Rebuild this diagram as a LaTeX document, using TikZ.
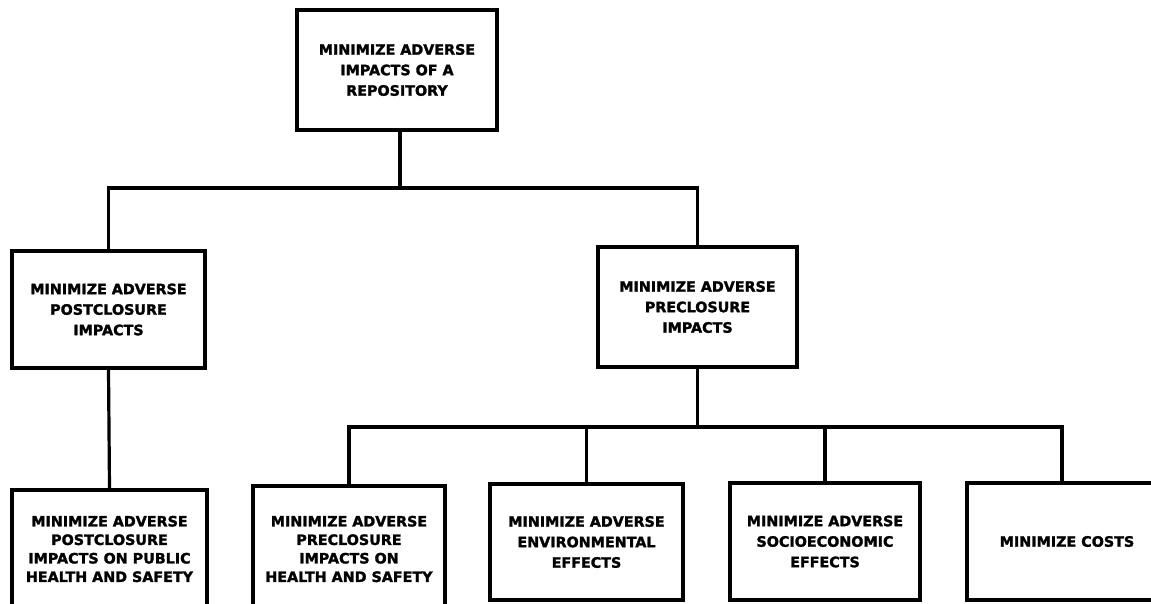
\documentclass[tikz,border=0pt]{standalone}
\usepackage{fontspec}
\setmainfont{DejaVu Sans}[BoldFeatures={FakeBold=1.8}]
\begin{document}
\begin{tikzpicture}[x=1pt,y=-1pt,
  goal/.style={draw, line width=3.2pt, rectangle, align=center, inner sep=0pt,
    font=\bfseries\fontsize{14.3}{20.5}\selectfont},
  tallgoal/.style={goal, font=\bfseries\fontsize{14.3}{18.5}\selectfont},
  link/.style={line width=3.2pt, line cap=rect}]
\useasboundingbox (0,0) rectangle (1151,603);

% root objective
\node[goal, minimum width=200pt, minimum height=120pt] (top) at (397,70)
  {MINIMIZE ADVERSE\\IMPACTS OF A\\REPOSITORY};

% second level
\node[goal, minimum width=193pt, minimum height=117pt] (post) at (108.5,309.5)
  {MINIMIZE ADVERSE\\POSTCLOSURE\\IMPACTS};
\node[goal, minimum width=199pt, minimum height=120pt] (pre) at (697.5,307)
  {MINIMIZE ADVERSE\\PRECLOSURE\\IMPACTS};

% third level
\node[tallgoal, minimum width=195pt, minimum height=118pt] (ph) at (109.5,549)
  {MINIMIZE ADVERSE\\POSTCLOSURE\\IMPACTS ON PUBLIC\\HEALTH AND SAFETY};
\node[tallgoal, minimum width=192pt, minimum height=126pt] (prh) at (349,549)
  {MINIMIZE ADVERSE\\PRECLOSURE\\IMPACTS ON\\HEALTH AND SAFETY};
\node[goal, minimum width=193pt, minimum height=116pt] (env) at (586.5,542)
  {MINIMIZE ADVERSE\\ENVIRONMENTAL\\EFFECTS};
\node[goal, minimum width=190pt, minimum height=117pt] (soc) at (825,541.5)
  {MINIMIZE ADVERSE\\SOCIOECONOMIC\\EFFECTS};
\node[goal, minimum width=200pt, minimum height=117pt] (cost) at (1067,541.5)
  {MINIMIZE COSTS};

% connectors
\coordinate (busA) at (400,188);
\draw[link] (top.south -| busA) -- (busA);
\draw[link] (post.north) -- (post.north |- busA) -- (pre.north |- busA) -- (pre.north);

\coordinate (busB) at (697.5,427);
\coordinate (costdrop) at (1062,427);
\draw[link] (pre.south) -- (busB);
\draw[link] (prh.north) -- (prh.north |- busB) -- (costdrop) -- (costdrop |- cost.north);
\draw[link] (env.north) -- (env.north |- busB);
\draw[link] (soc.north) -- (soc.north |- busB);
\draw[link] (post.south) -- (ph.north);
\end{tikzpicture}
\end{document}
